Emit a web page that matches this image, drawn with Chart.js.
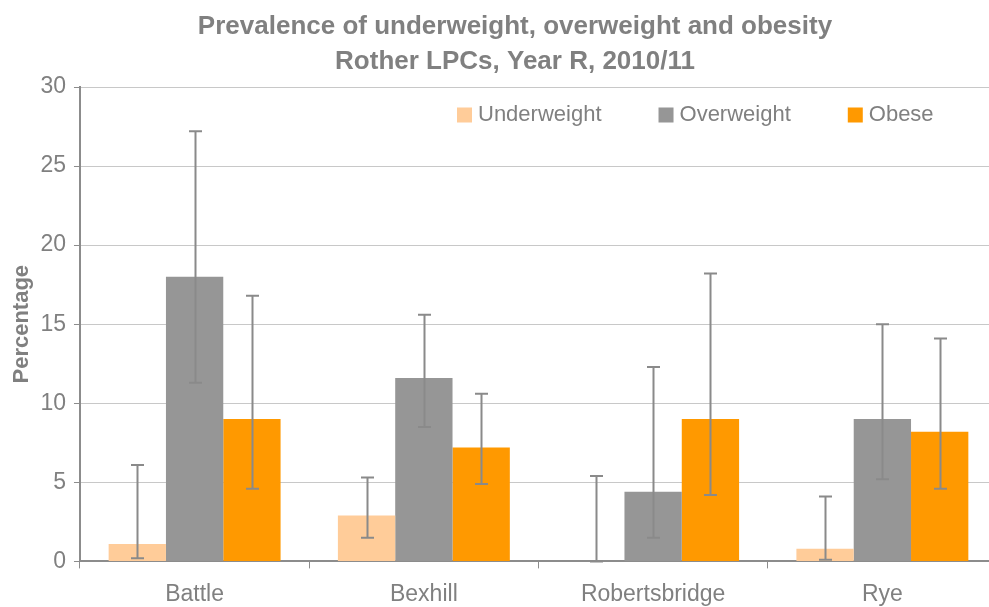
<!DOCTYPE html>
<html lang="en">
<head>
    <meta charset="UTF-8">
    <title>Prevalence of underweight, overweight and obesity</title>
    <style>
        body {
            margin: 0;
            padding: 0;
            background: #ffffff;
            overflow: hidden;
        }

        .container {
            width: 1000px;
            height: 607px;
        }
    </style>
    <script src="https://cdn.jsdelivr.net/npm/chart.js"></script>
</head>
<body>
    <div class="container">
        <canvas id="graph"></canvas>
    </div>
    <script>
        // Data
        const areas = ['Battle', 'Bexhill', 'Robertsbridge', 'Rye'];
        const yTicks = [0, 5, 10, 15, 20, 25, 30];

        const underweight = [1.1, 2.9, 0, 0.8];
        const underweightLow = [0.2, 1.5, 0, 0.1];
        const underweightHigh = [6.1, 5.3, 5.4, 4.1];

        const overweight = [18.0, 11.6, 4.4, 9.0];
        const overweightLow = [11.3, 8.5, 1.5, 5.2];
        const overweightHigh = [27.2, 15.6, 12.3, 15.0];

        const obese = [9.0, 7.2, 9.0, 8.2];
        const obeseLow = [4.6, 4.9, 4.2, 4.6];
        const obeseHigh = [16.8, 10.6, 18.2, 14.1];

        const titleLines = ['Prevalence of underweight, overweight and obesity', 'Rother LPCs, Year R, 2010/11'];

        const grey = '#808080';
        const fontFamily = '"Liberation Sans", Arial, sans-serif';

        // Title drawn above the plot
        const titlePlugin = {
            id: 'titleLines',
            afterDraw(chart) {
                const ctx = chart.ctx;
                ctx.save();
                ctx.fillStyle = grey;
                ctx.font = 'bold 26px ' + fontFamily;
                ctx.textAlign = 'center';
                ctx.textBaseline = 'middle';
                ctx.fillText(titleLines[0], 515, 27);
                ctx.fillText(titleLines[1], 515, 62);
                ctx.restore();
            }
        };

        // Legend inside the plot, top right
        const legendPlugin = {
            id: 'insideLegend',
            afterDatasetsDraw(chart) {
                const ctx = chart.ctx;
                ctx.save();
                ctx.font = '22px ' + fontFamily;
                ctx.textBaseline = 'middle';
                let x = 457;
                const y = 115;
                chart.data.datasets.forEach(ds => {
                    ctx.fillStyle = ds.backgroundColor;
                    ctx.fillRect(x, y - 7.5, 15, 15);
                    ctx.fillStyle = grey;
                    ctx.fillText(ds.label, x + 21, y);
                    x += 21 + ctx.measureText(ds.label).width + 57;
                });
                ctx.restore();
            }
        };

        // Confidence interval whiskers
        const errorBars = {
            id: 'errorBars',
            afterDatasetsDraw(chart) {
                const ctx = chart.ctx;
                const yScale = chart.scales.y;
                ctx.save();
                ctx.strokeStyle = '#8a8a8a';
                ctx.lineWidth = 2;
                chart.data.datasets.forEach((ds, i) => {
                    const meta = chart.getDatasetMeta(i);
                    meta.data.forEach((bar, j) => {
                        const top = yScale.getPixelForValue(ds.high[j]);
                        const bottom = yScale.getPixelForValue(ds.low[j]);
                        const x = Math.round(bar.x) + 0.5;
                        ctx.beginPath();
                        ctx.moveTo(x, top);
                        ctx.lineTo(x, bottom);
                        ctx.moveTo(x - 6.5, top);
                        ctx.lineTo(x + 6.5, top);
                        ctx.moveTo(x - 6.5, bottom);
                        ctx.lineTo(x + 6.5, bottom);
                        ctx.stroke();
                    });
                });
                ctx.restore();
            }
        };

        const ctx = document.getElementById('graph').getContext('2d');
        new Chart(ctx, {
            type: 'bar',
            data: {
                labels: areas,
                datasets: [
                    {
                        label: 'Underweight',
                        data: underweight,
                        low: underweightLow,
                        high: underweightHigh,
                        backgroundColor: '#ffcc99'
                    },
                    {
                        label: 'Overweight',
                        data: overweight,
                        low: overweightLow,
                        high: overweightHigh,
                        backgroundColor: '#969696'
                    },
                    {
                        label: 'Obese',
                        data: obese,
                        low: obeseLow,
                        high: obeseHigh,
                        backgroundColor: '#ff9900'
                    }
                ]
            },
            options: {
                responsive: true,
                maintainAspectRatio: false,
                animation: false,
                datasets: {
                    bar: {
                        categoryPercentage: 0.75,
                        barPercentage: 1.0
                    }
                },
                layout: {
                    padding: { top: 87, right: 3, left: 6, bottom: -13 }
                },
                plugins: {
                    tooltip: { enabled: false },
                    legend: { display: false }
                },
                scales: {
                    x: {
                        border: { color: '#8c8c8c', width: 2 },
                        grid: {
                            offset: true,
                            drawOnChartArea: false,
                            tickLength: 7,
                            tickColor: '#8c8c8c'
                        },
                        ticks: {
                            color: grey,
                            padding: 12,
                            font: { family: fontFamily, size: 23 }
                        }
                    },
                    y: {
                        min: 0,
                        max: 30,
                        afterBuildTicks(axis) {
                            axis.ticks = yTicks.map(v => ({ value: v }));
                        },
                        border: { color: '#8c8c8c', width: 2 },
                        grid: {
                            color: '#c8c8c8',
                            tickColor: '#8c8c8c',
                            tickLength: 6
                        },
                        ticks: {
                            color: grey,
                            padding: 8,
                            font: { family: fontFamily, size: 23 }
                        },
                        title: {
                            display: true,
                            text: 'Percentage',
                            color: grey,
                            padding: { top: 3, bottom: -3 },
                            font: { family: fontFamily, size: 22, weight: 'bold' }
                        }
                    }
                }
            },
            plugins: [titlePlugin, errorBars, legendPlugin]
        });
    </script>
</body>
</html>
